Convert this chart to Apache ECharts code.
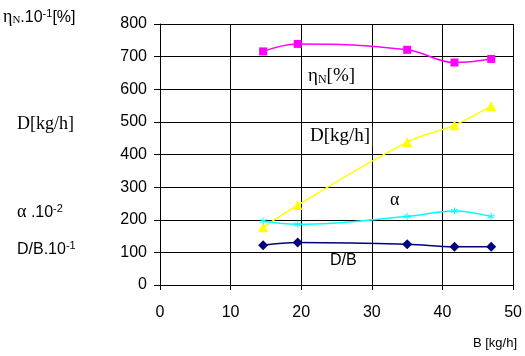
<!DOCTYPE html>
<html>
<head>
<meta charset="utf-8">
<script src="https://cdn.jsdelivr.net/npm/echarts@6/dist/echarts.min.js"></script>
<style>
html, body { margin: 0; padding: 0; background: #fff; }
#chart { width: 525px; height: 356px; }
</style>
</head>
<body>
<div id="chart"></div>
<script>
// B [kg/h]
const flowB = [14.6, 19.5, 35, 41.7, 46.9];
// ηN.10^-1 [%]
const etaN = [716, 739, 721, 682, 693];
// D [kg/h]
const steamD = [177, 245, 438, 490, 549];
// α.10^-2
const alpha = [196, 186, 210, 227, 210];
// D/B.10^-1
const ratioDB = [122, 130, 125, 117, 117];

const xTicks = [0, 10, 20, 30, 40, 50];
const yTicks = [0, 100, 200, 300, 400, 500, 600, 700, 800];

function pairs(vals) {
  return flowB.map((b, i) => [b, vals[i]]);
}

const starPath = 'path://M5,0 L5,10 M0,2.5 L10,7.5 M0,7.5 L10,2.5';

const chart = echarts.init(document.getElementById('chart'));

const sansFont = 'Liberation Sans';
const serifFont = 'Liberation Serif';

const option = {
  backgroundColor: '#fff',
  animation: false,
  grid: { left: 160, top: 24, right: 8, bottom: 71 },
  xAxis: {
    type: 'value',
    min: xTicks[0],
    max: xTicks[xTicks.length - 1],
    interval: 10,
    axisLine: { show: true, lineStyle: { color: '#000' } },
    axisTick: { show: true, inside: false, length: 5, lineStyle: { color: '#000' } },
    axisLabel: { color: '#000', fontSize: 16, fontFamily: sansFont, margin: 20 },
    splitLine: { show: true, lineStyle: { color: '#000', width: 1 } }
  },
  yAxis: {
    type: 'value',
    min: yTicks[0],
    max: yTicks[yTicks.length - 1],
    interval: 100,
    axisLine: { show: true, lineStyle: { color: '#000' } },
    axisTick: { show: true, inside: false, length: 6, lineStyle: { color: '#000' } },
    axisLabel: { color: '#000', fontSize: 16, fontFamily: sansFont, margin: 13 },
    splitLine: { show: true, lineStyle: { color: '#000', width: 1 } }
  },
  series: [
    {
      name: 'eta', type: 'line', smooth: 0.4, data: pairs(etaN),
      symbol: 'rect', symbolSize: 8,
      lineStyle: { color: '#ff00ff', width: 1.5 },
      itemStyle: { color: '#ff00ff' }
    },
    {
      name: 'D', type: 'line', smooth: 0.4, data: pairs(steamD),
      symbol: 'triangle', symbolSize: 10,
      lineStyle: { color: '#ffff00', width: 1.5 },
      itemStyle: { color: '#ffff00' }
    },
    {
      name: 'alpha', type: 'line', smooth: 0.4, data: pairs(alpha),
      symbol: starPath, symbolSize: 7,
      lineStyle: { color: '#00ffff', width: 1.5 },
      itemStyle: { color: '#00ffff', borderColor: '#00ffff', borderWidth: 1 }
    },
    {
      name: 'DB', type: 'line', smooth: 0.4, data: pairs(ratioDB),
      symbol: 'diamond', symbolSize: 10,
      lineStyle: { color: '#000080', width: 1.5 },
      itemStyle: { color: '#000080' }
    }
  ],
  graphic: [
    // left axis titles
    {
      type: 'text', left: 3, top: 8,
      style: {
        text: '{e|η}{n|N}{a|.10}{s|-1}{a|[%]}',
        rich: {
          e: { fontFamily: serifFont, fontSize: 18, fill: '#000' },
          n: { fontFamily: serifFont, fontSize: 11, fill: '#000', padding: [6, 0, 0, 0] },
          a: { fontFamily: sansFont, fontSize: 16, fill: '#000' },
          s: { fontFamily: sansFont, fontSize: 11, fill: '#000', padding: [0, 0, 8, 0] }
        }
      }
    },
    {
      type: 'text', left: 17, top: 115,
      style: { text: 'D[kg/h]', fontFamily: serifFont, fontSize: 18, fill: '#000' }
    },
    {
      type: 'text', left: 17, top: 203,
      style: {
        text: '{g|α}{a| .10}{s|-2}',
        rich: {
          g: { fontFamily: serifFont, fontSize: 18, fill: '#000' },
          a: { fontFamily: sansFont, fontSize: 16, fill: '#000' },
          s: { fontFamily: sansFont, fontSize: 11, fill: '#000', padding: [0, 0, 8, 0] }
        }
      }
    },
    {
      type: 'text', left: 17, top: 240,
      style: {
        text: '{a|D/B.10}{s|-1}',
        rich: {
          a: { fontFamily: sansFont, fontSize: 16, fill: '#000' },
          s: { fontFamily: sansFont, fontSize: 11, fill: '#000', padding: [0, 0, 8, 0] }
        }
      }
    },
    // in-plot series labels
    {
      type: 'text', left: 306, top: 66, z: 100,
      style: {
        text: '{e|η}{n|N}{a|[%]}',
        backgroundColor: '#fff', padding: [1, 2, 3, 2],
        rich: {
          e: { fontFamily: serifFont, fontSize: 19, fill: '#000' },
          n: { fontFamily: serifFont, fontSize: 12, fill: '#000', padding: [6, 0, 0, 0] },
          a: { fontFamily: serifFont, fontSize: 19, fill: '#000' }
        }
      }
    },
    {
      type: 'text', left: 308, top: 126, z: 100,
      style: { text: 'D[kg/h]', fontFamily: serifFont, fontSize: 19, fill: '#000', backgroundColor: '#fff', padding: [1, 2, 1, 2] }
    },
    {
      type: 'text', left: 390, top: 191, z: 100,
      style: { text: 'α', fontFamily: serifFont, fontSize: 18, fill: '#000' }
    },
    {
      type: 'text', left: 327, top: 253, z: 100,
      style: { text: 'D/B', fontFamily: sansFont, fontSize: 16, fill: '#000', backgroundColor: '#fff', padding: [0, 3, 1, 3] }
    },
    // x axis title
    {
      type: 'text', right: 8, top: 337,
      style: { text: 'B [kg/h]', fontFamily: sansFont, fontSize: 13, fill: '#000' }
    }
  ]
};

chart.setOption(option);
</script>
</body>
</html>
